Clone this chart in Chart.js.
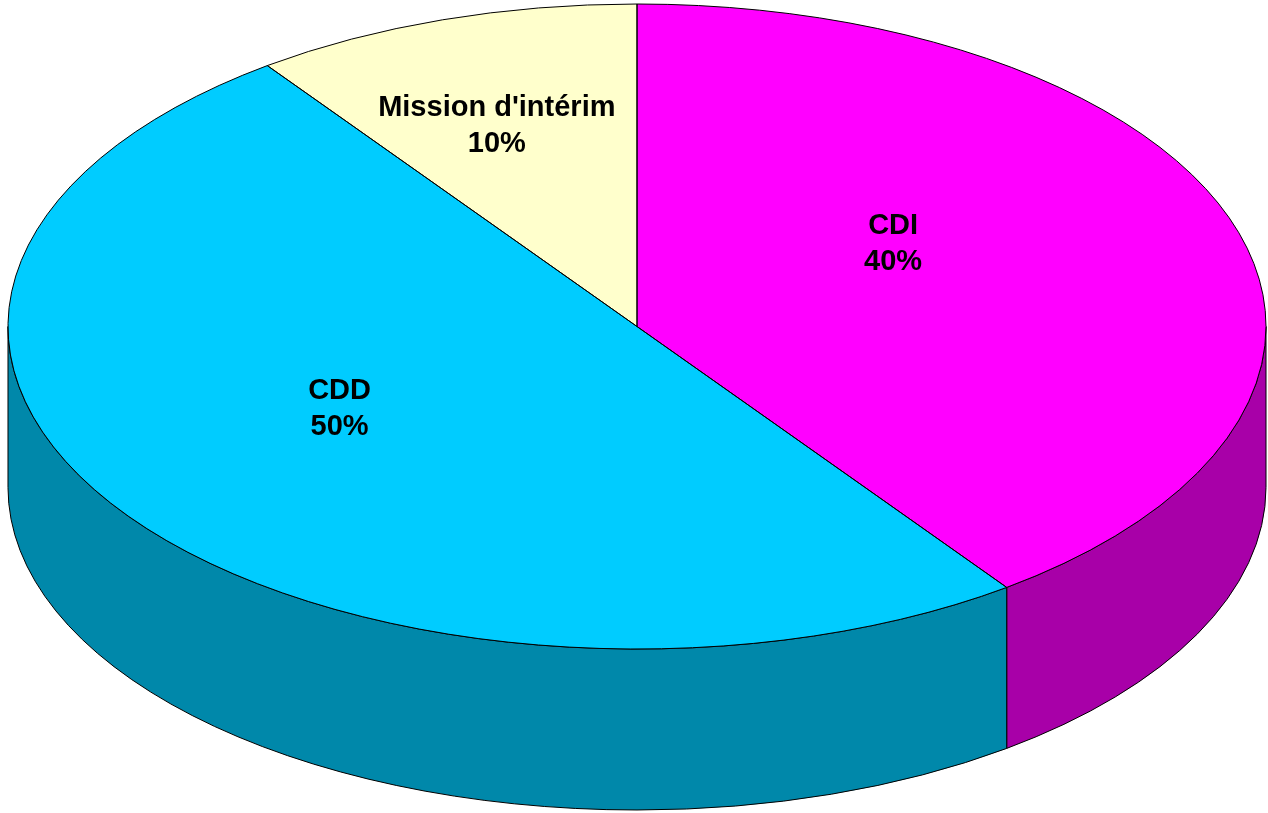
<!DOCTYPE html>
<html>
<head>
<meta charset="utf-8">
<script src="https://cdn.jsdelivr.net/npm/chart.js@4"></script>
<style>
    html, body { margin: 0; padding: 0; background: #fff; }
    canvas { display: block; }
</style>
</head>
<body>
<canvas id="pie" width="1268" height="813"></canvas>
<script>
const categories = ['CDI', 'CDD', "Mission d'intérim"]
const values = [40, 50, 10]
const topColors = ['#FF00FF', '#00CCFF', '#FFFFCC']
const sideColors = ['#A800A8', '#0088AA', '#B8B890']

// where the flattened pie sits on the page
const ellipse = { cx: 637, cy: 326.5, rx: 629, ry: 322.5, depth: 161 }
const labelFont = 'bold 29px "Liberation Sans", Arial, sans-serif'

function toEllipse(ctx, arc) {
    ctx.translate(ellipse.cx, ellipse.cy)
    ctx.scale(ellipse.rx / arc.outerRadius, ellipse.ry / arc.outerRadius)
    ctx.translate(-arc.x, -arc.y)
}

const pie3d = {
    id: 'pie3d',
    beforeDatasetsDraw(chart) {
        const ctx = chart.ctx
        const arcs = chart.getDatasetMeta(0).data
        // side walls, only the front half (0..PI) is visible
        arcs.forEach((arc, i) => {
            const a0 = Math.max(arc.startAngle, 0)
            const a1 = Math.min(arc.endAngle, Math.PI)
            if (a1 <= a0) return
            const d = ellipse.depth * arc.outerRadius / ellipse.ry
            ctx.save()
            toEllipse(ctx, arc)
            ctx.beginPath()
            ctx.arc(arc.x, arc.y, arc.outerRadius, a0, a1)
            ctx.lineTo(arc.x + arc.outerRadius * Math.cos(a1), arc.y + d + arc.outerRadius * Math.sin(a1))
            ctx.arc(arc.x, arc.y + d, arc.outerRadius, a1, a0, true)
            ctx.closePath()
            ctx.restore()
            ctx.fillStyle = sideColors[i]
            ctx.fill()
            ctx.lineWidth = 1
            ctx.strokeStyle = '#000'
            ctx.stroke()
        })
        ctx.save()
        toEllipse(ctx, arcs[0])
    },
    afterDatasetsDraw(chart) {
        const ctx = chart.ctx
        ctx.restore()
        const arcs = chart.getDatasetMeta(0).data
        arcs.forEach(arc => {
            ctx.save()
            toEllipse(ctx, arc)
            ctx.beginPath()
            ctx.moveTo(arc.x, arc.y)
            ctx.arc(arc.x, arc.y, arc.outerRadius, arc.startAngle, arc.endAngle)
            ctx.closePath()
            ctx.restore()
            ctx.lineWidth = 1
            ctx.strokeStyle = '#000'
            ctx.stroke()
        })

        const total = values.reduce((a, b) => a + b, 0)
        ctx.save()
        ctx.font = labelFont
        ctx.fillStyle = '#000'
        ctx.textAlign = 'center'
        ctx.textBaseline = 'middle'
        arcs.forEach((arc, i) => {
            const mid = (arc.startAngle + arc.endAngle) / 2
            const x = ellipse.cx - 43 + 0.5 * ellipse.rx * Math.cos(mid)
            const y = ellipse.cy - 26 + 0.57 * ellipse.ry * Math.sin(mid)
            const pct = Math.round(values[i] / total * 100) + '%'
            ctx.fillText(categories[i], x, y - 18)
            ctx.fillText(pct, x, y + 18)
        })
        ctx.restore()
    }
}

new Chart(document.getElementById('pie'), {
    type: 'pie',
    data: {
        labels: categories,
        datasets: [{
            data: values,
            backgroundColor: topColors,
            borderWidth: 0,
            clip: false
        }]
    },
    options: {
        responsive: false,
        animation: false,
        devicePixelRatio: 1,
        plugins: {
            legend: { display: false },
            tooltip: { enabled: false },
            title: { display: false }
        }
    },
    plugins: [pie3d]
})
</script>
</body>
</html>
